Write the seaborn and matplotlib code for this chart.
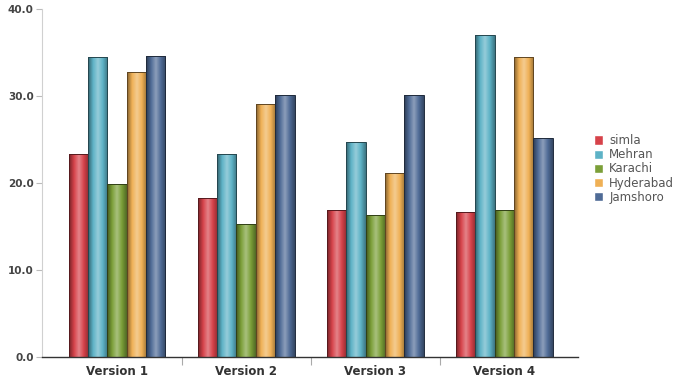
import numpy as np
import pandas as pd
import matplotlib
matplotlib.use("Agg")
import matplotlib.pyplot as plt
import seaborn as sns
from matplotlib.colors import LinearSegmentedColormap, to_rgb

versions = ["Version 1", "Version 2", "Version 3", "Version 4"]
cities = ["simla", "Mehran", "Karachi", "Hyderabad", "Jamshoro"]
simla = [23.3, 18.3, 16.9, 16.6]
mehran = [34.5, 23.3, 24.7, 37.0]
karachi = [19.9, 15.3, 16.3, 16.9]
hyderabad = [32.8, 29.1, 21.1, 34.5]
jamshoro = [34.6, 30.1, 30.1, 25.2]

colors = ["#d6424a", "#5db2c6", "#7b9f38", "#efb055", "#4f6b96"]

rows = []
for city, vals in zip(cities, [simla, mehran, karachi, hyderabad, jamshoro]):
    for v, val in zip(versions, vals):
        rows.append({"version": v, "city": city, "value": val})
df = pd.DataFrame(rows)

sns.set_style("white")
fig = plt.figure(figsize=(6.8, 3.85), dpi=100)
ax = fig.add_axes([0.062, 0.073, 0.788, 0.904])

sns.barplot(data=df, x="version", y="value", hue="city", hue_order=cities,
            palette=colors, width=0.75, ax=ax, legend=True, saturation=1)


def shade(c):
    r = np.array(to_rgb(c))
    dark = r * 0.55
    light = np.clip(r + (1 - r) * 0.35, 0, 1)
    return LinearSegmentedColormap.from_list("s", [dark, r, light, r, dark * 1.2])


# cylinder-like gradient on each bar
for container, c in zip(ax.containers, colors):
    cmap = shade(c)
    for p in container.patches:
        x0, y0 = p.get_x(), p.get_y()
        w, h = p.get_width(), p.get_height()
        grad = np.linspace(0, 1, 64).reshape(1, -1)
        im = ax.imshow(grad, cmap=cmap, aspect="auto",
                       extent=[x0, x0 + w, y0, y0 + h], zorder=p.get_zorder() + 0.1)
        im.set_clip_path(p)
        p.set_edgecolor(tuple(np.array(to_rgb(c)) * 0.4))
        p.set_linewidth(0.7)
        p.set_zorder(p.get_zorder() + 0.2)
        p.set_facecolor("none")

ax.set_xlim(-0.58, 3.57)
ax.set_ylim(0, 40)
ax.set_yticks([0, 10, 20, 30, 40])
ax.set_yticklabels(["0.0", "10.0", "20.0", "30.0", "40.0"])
ax.set_xlabel("")
ax.set_ylabel("")

for s in ["top", "right"]:
    ax.spines[s].set_visible(False)
ax.spines["left"].set_color("#d0d0d0")
ax.spines["bottom"].set_color("#333333")
ax.spines["bottom"].set_linewidth(1.0)
ax.spines["bottom"].set_zorder(5)

ax.tick_params(axis="y", direction="out", length=4, color="#bbbbbb",
               labelsize=7.5, labelcolor="#444444", pad=2, left=True)
ax.set_xticks([0.5, 1.5, 2.5], minor=True)
ax.tick_params(axis="x", which="major", length=0, labelsize=8.5,
               labelcolor="#333333", pad=6)
ax.tick_params(axis="x", which="minor", direction="out", length=6,
               width=0.8, color="#aaaaaa", bottom=True)
for lab in ax.get_xticklabels() + ax.get_yticklabels():
    lab.set_fontweight("bold")

leg = ax.legend(loc="center left", bbox_to_anchor=(1.01, 0.54), frameon=False,
                fontsize=8.5, handlelength=0.8, handleheight=0.8,
                handletextpad=0.5, labelspacing=0.1)
for t in leg.get_texts():
    t.set_color("#555555")

fig.savefig("out.png", dpi=100)
